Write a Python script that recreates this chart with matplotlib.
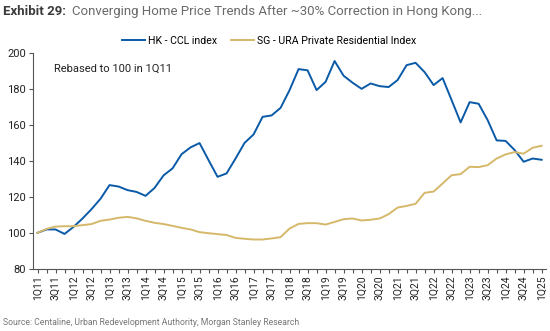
import matplotlib.pyplot as plt

# quarterly index levels, 1Q11 = 100
quarters = [f"{q}Q{y:02d}" for y in range(11, 26) for q in range(1, 5)][:57]

hk_ccl = [100.0, 101.9, 101.9, 99.4, 103.3, 108.0, 113.2, 119.0, 126.6, 125.8,
          123.8, 122.8, 120.6, 125.0, 132.0, 135.9, 143.8, 147.6, 150.0, 140.5,
          131.2, 133.1, 141.4, 150.1, 154.8, 164.6, 165.4, 169.6, 179.5, 191.2,
          190.5, 179.5, 184.1, 195.7, 187.5, 183.6, 180.2, 183.2, 181.7, 181.2,
          185.1, 193.4, 194.7, 189.5, 182.3, 186.2, 173.9, 161.5, 172.8, 171.9,
          162.8, 151.5, 151.2, 146.1, 139.6, 141.4, 140.7]

sg_ura = [100.0, 102.2, 103.5, 103.7, 103.7, 104.3, 104.9, 106.7, 107.4, 108.4,
          108.9, 108.1, 106.7, 105.6, 104.9, 103.9, 102.8, 101.9, 100.4, 99.8,
          99.3, 98.8, 97.2, 96.7, 96.3, 96.3, 96.9, 97.6, 102.4, 105.0,
          105.4, 105.4, 104.6, 106.1, 107.6, 108.0, 106.9, 107.3, 108.0, 110.4,
          114.1, 115.0, 116.2, 122.3, 123.0, 127.5, 132.1, 132.7, 136.8, 136.6,
          137.7, 141.4, 143.7, 145.0, 144.1, 147.4, 148.5]

blue = '#0a5aa8'
gold = '#d6b86a'
narrow = ['Liberation Sans Narrow', 'Roboto', 'DejaVu Sans']

fig = plt.figure(figsize=(5.5, 3.31), dpi=100)
ax = fig.add_axes([0.06, 0.188, 0.933, 0.651])

x = list(range(len(quarters)))
ax.plot(x, hk_ccl, color=blue, lw=1.4, label='HK - CCL index')
ax.plot(x, sg_ura, color=gold, lw=1.4, label='SG - URA Private Residential Index')

ax.set_ylim(80, 200)
ax.set_yticks(range(80, 201, 20))
ax.set_xlim(-0.5, len(quarters) - 0.5)
ax.set_xticks(x)
ax.set_xticklabels([q if i % 2 == 0 else '' for i, q in enumerate(quarters)],
                   rotation=90, fontsize=7.5, family=narrow)
for lbl in ax.get_yticklabels():
    lbl.set_family(narrow)
    lbl.set_fontsize(8)

for s in ['top', 'right']:
    ax.spines[s].set_visible(False)
for s in ['left', 'bottom']:
    ax.spines[s].set_color('#555555')
    ax.spines[s].set_linewidth(0.8)
ax.tick_params(axis='both', colors='#555555', labelcolor='#222222',
               length=3, width=0.8, pad=2)

ax.text(0.04, 0.93, 'Rebased to 100 in 1Q11', transform=ax.transAxes,
        fontsize=8, family=narrow, color='#222222', va='center')

ax.legend(loc='lower center', bbox_to_anchor=(0.46, 1.0), ncol=2, frameon=False,
          prop={'family': narrow, 'size': 7.6}, handlelength=2.2,
          handletextpad=0.3, columnspacing=1.3, borderaxespad=0.3)

fig.text(0.005, 0.965, 'Exhibit 29:', fontsize=9.5, fontweight='bold',
         color='#3a3a3a', family='Roboto', va='center')
fig.text(0.13, 0.965, 'Converging Home Price Trends After ~30% Correction in Hong Kong...',
         fontsize=9.5, color='#6a6a6a', family='Roboto', va='center')
fig.text(0.005, 0.025, 'Source: Centaline, Urban Redevelopment Authority, Morgan Stanley Research',
         fontsize=6.2, color='#777777', family='Roboto', va='center')

fig.savefig('out.png', dpi=100)
